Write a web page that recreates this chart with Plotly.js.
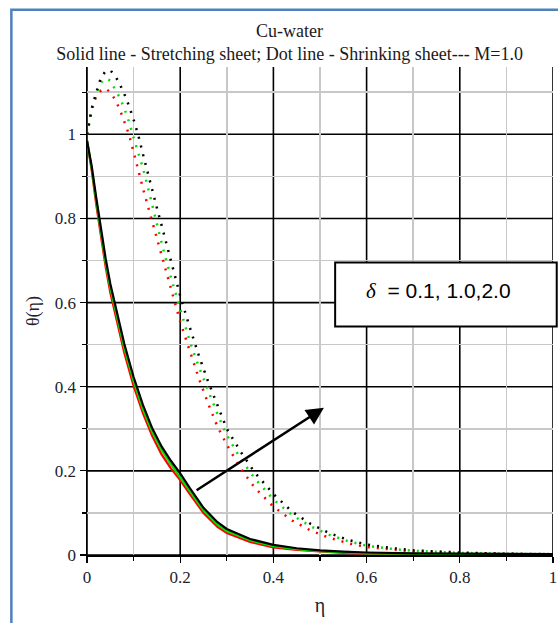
<!DOCTYPE html>
<html>
<head>
<meta charset="utf-8">
<script src="https://cdn.plot.ly/plotly-3.0.1.min.js"></script>
<style>html,body{margin:0;padding:0;background:#fff;}#chart{width:558px;height:623px;}</style>
</head>
<body>
<div id="chart"></div>
<script>
// Stretching sheet (solid lines)
const etaSolid = [0, 0.01, 0.02, 0.03, 0.04, 0.05, 0.06, 0.08, 0.10, 0.12, 0.14, 0.16, 0.18, 0.20, 0.22, 0.25, 0.28, 0.30, 0.35, 0.40, 0.45, 0.50, 0.55, 0.60, 0.70, 0.80, 0.90, 1.00];
const solidRed   = [0.985, 0.915, 0.832, 0.755, 0.685, 0.624, 0.574, 0.481, 0.402, 0.337, 0.283, 0.239, 0.206, 0.178, 0.146, 0.100, 0.067, 0.052, 0.031, 0.018, 0.012, 0.008, 0.005, 0.003, 0.002, 0.001, 0.001, 0.000];
const solidGreen = [0.985, 0.920, 0.840, 0.765, 0.695, 0.635, 0.585, 0.492, 0.413, 0.347, 0.292, 0.250, 0.216, 0.186, 0.153, 0.106, 0.072, 0.057, 0.035, 0.021, 0.014, 0.009, 0.006, 0.004, 0.003, 0.002, 0.001, 0.001];
const solidBlack = [0.985, 0.925, 0.848, 0.774, 0.705, 0.645, 0.595, 0.502, 0.423, 0.357, 0.301, 0.258, 0.224, 0.194, 0.160, 0.112, 0.078, 0.062, 0.038, 0.024, 0.016, 0.011, 0.008, 0.006, 0.004, 0.003, 0.002, 0.002];

// Shrinking sheet (dotted lines)
const etaDot = [0, 0.01, 0.02, 0.03, 0.04, 0.05, 0.06, 0.07, 0.08, 0.09, 0.10, 0.11, 0.12, 0.13, 0.14, 0.15, 0.16, 0.18, 0.20, 0.22, 0.24, 0.26, 0.28, 0.30, 0.33, 0.36, 0.40, 0.44, 0.48, 0.52, 0.56, 0.60, 0.65, 0.70, 0.80, 0.90, 1.00];
const dotRed   = [1.0, 1.062, 1.090, 1.104, 1.109, 1.100, 1.083, 1.060, 1.030, 1.000, 0.958, 0.913, 0.872, 0.832, 0.792, 0.752, 0.712, 0.630, 0.555, 0.487, 0.420, 0.360, 0.305, 0.262, 0.205, 0.160, 0.115, 0.082, 0.058, 0.041, 0.028, 0.019, 0.013, 0.008, 0.004, 0.002, 0.001];
const dotGreen = [1.0, 1.055, 1.097, 1.123, 1.133, 1.128, 1.107, 1.088, 1.062, 1.030, 0.992, 0.956, 0.920, 0.877, 0.830, 0.785, 0.742, 0.660, 0.585, 0.510, 0.447, 0.390, 0.335, 0.285, 0.228, 0.182, 0.132, 0.095, 0.068, 0.048, 0.033, 0.022, 0.015, 0.010, 0.005, 0.003, 0.002];
const dotBlack = [1.0, 1.060, 1.100, 1.135, 1.150, 1.152, 1.140, 1.120, 1.096, 1.068, 1.035, 0.998, 0.953, 0.908, 0.866, 0.825, 0.784, 0.700, 0.616, 0.543, 0.474, 0.412, 0.355, 0.300, 0.245, 0.196, 0.145, 0.103, 0.074, 0.052, 0.036, 0.025, 0.017, 0.011, 0.006, 0.003, 0.002];

// Axis tick positions
const xMajorTicks = [0, 0.2, 0.4, 0.6, 0.8, 1];
const xMinorTicks = [0.1, 0.3, 0.5, 0.7, 0.9];
const yMajorTicks = [0, 0.2, 0.4, 0.6, 0.8, 1];
const yMinorTicks = [0.1, 0.3, 0.5, 0.7, 0.9, 1.1];
const tickLabels = ['0', '0.2', '0.4', '0.6', '0.8', '1'];

const titleLine1 = 'Cu-water';
const titleLine2 = 'Solid line - Stretching sheet; Dot line - Shrinking sheet--- M=1.0';
const boxLabel = '<span style="font-family:Liberation Serif;font-style:italic">δ</span>  = 0.1, 1.0,2.0';

function solid(y, c) {
  return {x: etaSolid, y: y, mode: 'lines', line: {color: c, width: 2.2}, showlegend: false, hoverinfo: 'skip'};
}
function dotted(y, c) {
  return {x: etaDot, y: y, mode: 'lines', line: {color: c, width: 2.5, dash: '2px,7px'}, showlegend: false, hoverinfo: 'skip'};
}

const data = [
  dotted(dotRed, '#ff0000'), dotted(dotGreen, '#00e000'), dotted(dotBlack, '#000000'),
  solid(solidRed, '#ff0000'), solid(solidGreen, '#00e000'), solid(solidBlack, '#000000')
];

function axis(range, major, minor, titleText, titleSize, standoff) {
  return {
    range: range, tickmode: 'array', tickvals: major, ticktext: tickLabels,
    showgrid: false,
    zeroline: false, showline: true, linecolor: '#000000', linewidth: 1.5,
    ticks: 'outside', ticklen: 6, tickcolor: '#000000', tickwidth: 1.2,
    tickfont: {family: 'Liberation Serif', size: 17, color: '#22222e'},
    minor: {tickmode: 'array', tickvals: minor, showgrid: true, gridcolor: '#c8c8c8', gridwidth: 1.5,
            ticks: 'outside', ticklen: 4, tickcolor: '#000000', tickwidth: 1.2},
    title: {text: titleText, font: {family: 'Liberation Serif', size: titleSize, color: '#22222e'}, standoff: standoff}
  };
}

// Major grid lines drawn between the grid layer and the traces
const gridShapes = [];
xMajorTicks.forEach(function (v) {
  gridShapes.push({type: 'line', xref: 'x', yref: 'paper', x0: v, x1: v, y0: 0, y1: 1,
                   line: {color: '#000000', width: 1.6}, layer: 'between'});
});
yMajorTicks.forEach(function (v) {
  gridShapes.push({type: 'line', xref: 'paper', yref: 'y', x0: 0, x1: 1, y0: v, y1: v,
                   line: {color: '#000000', width: 1.6}, layer: 'between'});
});

const layout = {
  width: 558, height: 623,
  margin: {l: 87, r: 5, t: 67, b: 68},
  paper_bgcolor: '#ffffff', plot_bgcolor: '#ffffff',
  title: {
    text: titleLine1 + '<br>' + titleLine2,
    font: {family: 'Liberation Serif', size: 18, color: '#1a1a1a'},
    xref: 'container', x: 0.519, xanchor: 'center',
    yref: 'container', y: 0.941, yanchor: 'top'
  },
  xaxis: axis([0, 1], xMajorTicks, xMinorTicks, 'η', 20, 12),
  yaxis: axis([0, 1.16], yMajorTicks, yMinorTicks, 'θ(η)', 18, 10),
  shapes: gridShapes.concat([
    {type: 'path', xref: 'paper', yref: 'paper',
     path: 'M -0.1623 -0.16 L -0.1623 1.1173 L 1.03 1.1173',
     line: {color: '#4f81bd', width: 2.5}},
    {type: 'rect', xref: 'paper', yref: 'paper',
     x0: 0.5325, x1: 1.008, y0: 0.4684, y1: 0.5994,
     fillcolor: '#ffffff', line: {color: '#000000', width: 2}, layer: 'above'}
  ]),
  annotations: [
    {xref: 'x', yref: 'y', axref: 'x', ayref: 'y',
     x: 0.5085, y: 0.35, ax: 0.232, ay: 0.1515,
     text: '', showarrow: true, arrowhead: 2, arrowsize: 1.4, arrowwidth: 2.5, arrowcolor: '#000000'},
    {xref: 'paper', yref: 'paper', x: 0.755, y: 0.542, xanchor: 'center', yanchor: 'middle',
     text: boxLabel, showarrow: false,
     font: {family: 'Liberation Sans', size: 21, color: '#000000'}}
  ]
};

Plotly.newPlot('chart', data, layout, {staticPlot: true, displayModeBar: false});
</script>
</body>
</html>
